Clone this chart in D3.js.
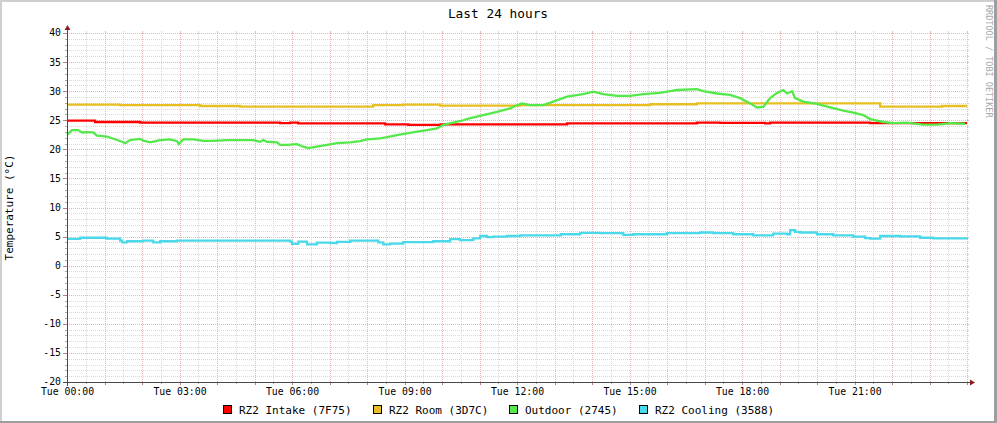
<!DOCTYPE html>
<html><head><meta charset="utf-8">
<script src="https://cdn.jsdelivr.net/npm/d3@7"></script>
<style>
html,body{margin:0;padding:0;background:#fff;}
svg{display:block;}
text{font-family:"DejaVu Sans Mono",monospace;fill:#000;}
</style></head><body>
<svg id="c" width="997" height="423"></svg>
<script>
// ---------- data ----------
const chartTitle = "Last 24 hours";
const yAxisTitle = "Temperature (°C)";
const watermarkText = "RRDTOOL / TOBI OETIKER";
const yTickValues = [-20,-15,-10,-5,0,5,10,15,20,25,30,35,40];
const xTickMinutes = [0,180,360,540,720,900,1080,1260];
const xTickLabels = ["Tue 00:00","Tue 03:00","Tue 06:00","Tue 09:00","Tue 12:00","Tue 15:00","Tue 18:00","Tue 21:00"];
const seriesNames = ["RZ2 Intake (7F75)","RZ2 Room (3D7C)","Outdoor (2745)","RZ2 Cooling (3588)"];
const seriesColors = ["#FF0000","#E8BF22","#55E84A","#4AD9EB"];

// minutes since Tue 00:00 and temperature (°C)
const intakeT = [0,45,117,341,357,370,509,546,598,800,1008,1045,1117,1125,1285,1440];
const intakeV = [24.95,24.7,24.6,24.5,24.6,24.45,24.3,24.2,24.3,24.45,24.6,24.55,24.45,24.6,24.5,24.5];

const roomT = [0,85,213,277,490,538,597,725,933,1008,1301,1400,1440];
const roomV = [27.7,27.6,27.45,27.35,27.6,27.7,27.5,27.6,27.75,27.9,27.35,27.45,27.45];

const outdoorT = [0,5,8,18,24,32,42,48,64,80,88,93,101,117,122,133,149,165,176,179,186,202,218,234,256,277,298,309,314,320,336,341,352,368,378,386,400,416,432,453,469,480,501,512,528,544,560,576,592,602,618,634,645,666,688,709,718,728,741,762,778,800,826,842,858,880,901,922,949,965,976,1008,1018,1040,1061,1077,1093,1104,1114,1125,1136,1146,1152,1160,1165,1178,1200,1221,1242,1258,1274,1285,1306,1322,1344,1370,1392,1413,1437];
const outdoorV = [22.5,23.0,23.3,23.3,22.9,22.95,22.9,22.35,22.2,21.6,21.3,21.05,21.6,21.8,21.5,21.2,21.6,21.7,21.4,20.9,21.7,21.7,21.45,21.45,21.6,21.6,21.6,21.3,21.6,21.3,21.2,20.75,20.75,20.9,20.45,20.2,20.45,20.75,21.05,21.2,21.4,21.7,21.9,22.1,22.45,22.75,23.05,23.3,23.6,24.2,24.6,25.0,25.35,25.9,26.45,27.05,27.5,27.9,27.6,27.6,28.2,29.05,29.5,29.9,29.5,29.2,29.2,29.5,29.7,30.0,30.2,30.35,30.0,29.6,29.35,28.8,27.9,27.2,27.3,28.8,29.7,30.2,29.6,30.0,28.8,28.2,27.8,27.2,26.65,26.3,25.9,25.2,24.7,24.5,24.6,24.25,24.25,24.5,24.4];

const coolingT = [0,21,64,85,88,96,122,138,149,176,357,360,370,384,400,421,432,453,498,506,517,538,586,613,629,650,661,672,682,704,725,790,821,853,890,906,960,1013,1034,1066,1098,1130,1152,1157,1165,1173,1200,1226,1258,1277,1285,1301,1333,1365,1386,1440];
const coolingV = [4.6,4.8,4.65,4.3,4.0,4.2,4.3,4.0,4.2,4.3,4.15,3.75,4.15,3.65,3.95,3.9,4.1,4.3,4.0,3.65,3.8,4.05,4.2,4.55,4.4,4.7,5.1,4.9,5.0,5.1,5.2,5.4,5.65,5.6,5.3,5.4,5.6,5.7,5.6,5.4,5.2,5.5,5.4,6.1,5.8,5.7,5.4,5.2,5.0,4.75,4.65,5.1,5.05,4.8,4.7,4.6];

// ---------- drawing ----------
const W = 997, H = 423;
const X0 = 67, X1 = 967, Y0 = 382, Y1 = 33;
const svg = d3.select("#c");
const x = d3.scaleLinear().domain([0,1440]).range([X0,X1]);
const y = d3.scaleLinear().domain([-20,40]).range([Y0,Y1]);
const px = v => Math.round(v) + 0.5;

svg.append("rect").attr("width",W).attr("height",H).attr("fill","#FFFFFF");
// 3D frame
const fr = svg.append("g").attr("shape-rendering","crispEdges");
fr.append("rect").attr("x",0).attr("y",0).attr("width",W).attr("height",2).attr("fill","#CFCFCF");
fr.append("rect").attr("x",0).attr("y",0).attr("width",2).attr("height",H).attr("fill","#CFCFCF");
fr.append("rect").attr("x",0).attr("y",H-2).attr("width",W).attr("height",2).attr("fill","#9E9E9E");
fr.append("rect").attr("x",W-3).attr("y",0).attr("width",3).attr("height",H).attr("fill","#9E9E9E");

const MINOR = "#D9D9D9", MAJOR = "#EAB4B4";
const grid = svg.append("g").attr("shape-rendering","crispEdges");
// horizontal grid
d3.range(-20,41,1).forEach(v => {
  const major = v % 5 === 0;
  const c = major ? MAJOR : MINOR;
  const yy = px(y(v));
  if (v !== -20) {
    grid.append("line").attr("x1",X0-2).attr("x2",X1+2).attr("y1",yy).attr("y2",yy)
      .attr("stroke",c).attr("stroke-dasharray","1,1");
  }
  grid.append("line").attr("x1",X0-(major?4:2)).attr("x2",X0).attr("y1",yy).attr("y2",yy).attr("stroke",major?"#B88080":"#AAAAAA");
  grid.append("line").attr("x1",X1).attr("x2",X1+2).attr("y1",yy).attr("y2",yy).attr("stroke",c);
});
// vertical grid
d3.range(0,1441,30).forEach(m => {
  const major = m % 60 === 0;
  const c = major ? MAJOR : MINOR;
  const xx = px(x(m));
  if (m !== 0) {
    grid.append("line").attr("x1",xx).attr("x2",xx).attr("y1",Y1-2).attr("y2",Y0+2)
      .attr("stroke",c).attr("stroke-dasharray","1,1");
  }
  grid.append("line").attr("x1",xx).attr("x2",xx).attr("y1",Y0).attr("y2",Y0+(major?3:2)).attr("stroke",major?"#B88080":"#AAAAAA");
  grid.append("line").attr("x1",xx).attr("x2",xx).attr("y1",Y1-2).attr("y2",Y1).attr("stroke",c);
});

// series
const series = [
  {t:intakeT, v:intakeV, curve:d3.curveStepAfter},
  {t:roomT, v:roomV, curve:d3.curveStepAfter},
  {t:outdoorT, v:outdoorV, curve:d3.curveLinear},
  {t:coolingT, v:coolingV, curve:d3.curveStepAfter}
];
series.forEach((s,i) => {
  const pts = s.t.map((t,k) => [t, s.v[k]]);
  const line = d3.line().x(d => x(d[0])).y(d => y(d[1])).curve(s.curve);
  svg.append("path").attr("d",line(pts)).attr("fill","none")
    .attr("stroke",seriesColors[i]).attr("stroke-width",2.3).attr("stroke-linejoin","miter");
});

// axes
const ax = svg.append("g").attr("shape-rendering","crispEdges");
ax.append("line").attr("x1",X0-4).attr("x2",X1+4).attr("y1",Y0+0.5).attr("y2",Y0+0.5).attr("stroke","#4A4A4A");
ax.append("line").attr("x1",X0+0.5).attr("x2",X0+0.5).attr("y1",Y0+4).attr("y2",Y1-4).attr("stroke","#4A4A4A");
svg.append("path").attr("d",`M${X1+8},${Y0+0.5}L${X1+3},${Y0-2.5}L${X1+3},${Y0+3.5}Z`).attr("fill","#8A1E1E");
svg.append("path").attr("d",`M${X0+0.5},${Y1-8}L${X0-2.5},${Y1-3}L${X0+3.5},${Y1-3}Z`).attr("fill","#8A1E1E");

// y tick labels
svg.append("g").selectAll("text").data(yTickValues).join("text")
  .attr("x",61).attr("y",d => y(d)).attr("dy","0.35em").attr("text-anchor","end")
  .attr("font-size","9.8px").text(d => d);
// x tick labels
svg.append("g").selectAll("text").data(xTickMinutes).join("text")
  .attr("x",d => x(d)+0.5).attr("y",395).attr("text-anchor","middle")
  .attr("font-size","9.8px").text((d,i) => xTickLabels[i]);

// title
svg.append("text").attr("x",498).attr("y",18).attr("text-anchor","middle")
  .attr("font-size","12.8px").text(chartTitle);
// y axis title
svg.append("text").attr("transform",`translate(13,${(Y0+Y1)/2}) rotate(-90)`)
  .attr("text-anchor","middle").attr("font-size","11px").text(yAxisTitle);
// watermark
svg.append("text").attr("transform","translate(986,5) rotate(90)")
  .attr("text-anchor","start").attr("font-size","8.5px").style("fill","#A8A8A8").text(watermarkText);

// legend
const lg = svg.append("g");
const items = seriesNames.map((n,i) => {
  const g = lg.append("g");
  g.append("rect").attr("x",0.5).attr("y",405.5).attr("width",8).attr("height",8)
    .attr("fill",seriesColors[i]).attr("stroke","#000").attr("shape-rendering","crispEdges");
  const t = g.append("text").attr("x",16).attr("y",414).attr("font-size","11px").text(n);
  return {g, w: 16 + t.node().getComputedTextLength()};
});
const gap = 21;
const total = items.reduce((a,b) => a + b.w, 0) + gap*(items.length-1);
let cx = Math.round((W - total)/2);
items.forEach(it => { it.g.attr("transform",`translate(${cx},0)`); cx = Math.round(cx + it.w + gap); });
</script>
</body></html>
